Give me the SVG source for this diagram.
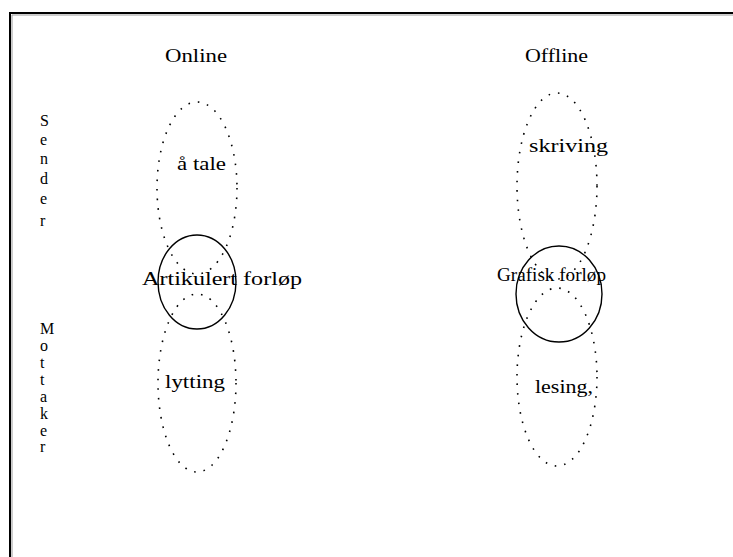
<svg xmlns="http://www.w3.org/2000/svg" width="733" height="557" viewBox="0 0 733 557">
<style>
.t{font-family:"Liberation Serif","DejaVu Serif",serif;font-size:18px;fill:#000}
.v{font-family:"Liberation Serif","DejaVu Serif",serif;font-size:16px;fill:#000}
.dot{fill:none;stroke:#000;stroke-width:1.6;stroke-dasharray:1.6 8;stroke-linecap:butt}
.circ{fill:none;stroke:#000;stroke-width:1.4}
</style>
<rect width="733" height="557" fill="#fff"/>
<g id="frame">
<path d="M10 557 V13 H733" fill="none" stroke="#000" stroke-width="2"/>
<path d="M12 557 V15 H733" fill="none" stroke="#999" stroke-width="1"/>
</g>
<g id="headers">
<text class="t" x="165" y="62" textLength="62" lengthAdjust="spacingAndGlyphs">Online</text>
<text class="t" x="525" y="62" textLength="63" lengthAdjust="spacingAndGlyphs">Offline</text>
</g>
<g id="sender">
<text class="v" x="40" y="126">S</text>
<text class="v" x="40" y="145">e</text>
<text class="v" x="40" y="164">n</text>
<text class="v" x="40" y="184">d</text>
<text class="v" x="40" y="204">e</text>
<text class="v" x="40" y="226">r</text>
</g>
<g id="mottaker">
<text class="v" x="40" y="334">M</text>
<text class="v" x="40" y="351">o</text>
<text class="v" x="40" y="368">t</text>
<text class="v" x="40" y="385">t</text>
<text class="v" x="40" y="402">a</text>
<text class="v" x="40" y="419">k</text>
<text class="v" x="40" y="436">e</text>
<text class="v" x="40" y="452">r</text>
</g>
<g id="online-tale">
<ellipse class="dot" cx="197" cy="188" rx="40" ry="86"/>
<text class="t" x="177" y="170" textLength="49" lengthAdjust="spacingAndGlyphs">å tale</text>
</g>
<g id="online-lytting">
<ellipse class="dot" cx="197" cy="383" rx="39" ry="89"/>
<text class="t" x="165" y="388" textLength="60" lengthAdjust="spacingAndGlyphs">lytting</text>
</g>
<g id="online-artikulert">
<ellipse class="circ" cx="197" cy="282" rx="39" ry="47"/>
<text class="t" x="142" y="285" textLength="160" lengthAdjust="spacingAndGlyphs">Artikulert forløp</text>
</g>
<g id="offline-skriving">
<ellipse class="dot" cx="557" cy="186" rx="40" ry="93"/>
<text class="t" x="529" y="152" textLength="79" lengthAdjust="spacingAndGlyphs">skriving</text>
</g>
<g id="offline-lesing">
<ellipse class="dot" cx="557" cy="377" rx="40" ry="89"/>
<text class="t" x="535" y="393" textLength="58" lengthAdjust="spacingAndGlyphs">lesing,</text>
</g>
<g id="offline-grafisk">
<ellipse class="circ" cx="559" cy="294" rx="43" ry="48"/>
<text class="t" x="497" y="281" textLength="109" lengthAdjust="spacingAndGlyphs">Grafisk forløp</text>
</g>
<g id="connectors"></g>
</svg>
